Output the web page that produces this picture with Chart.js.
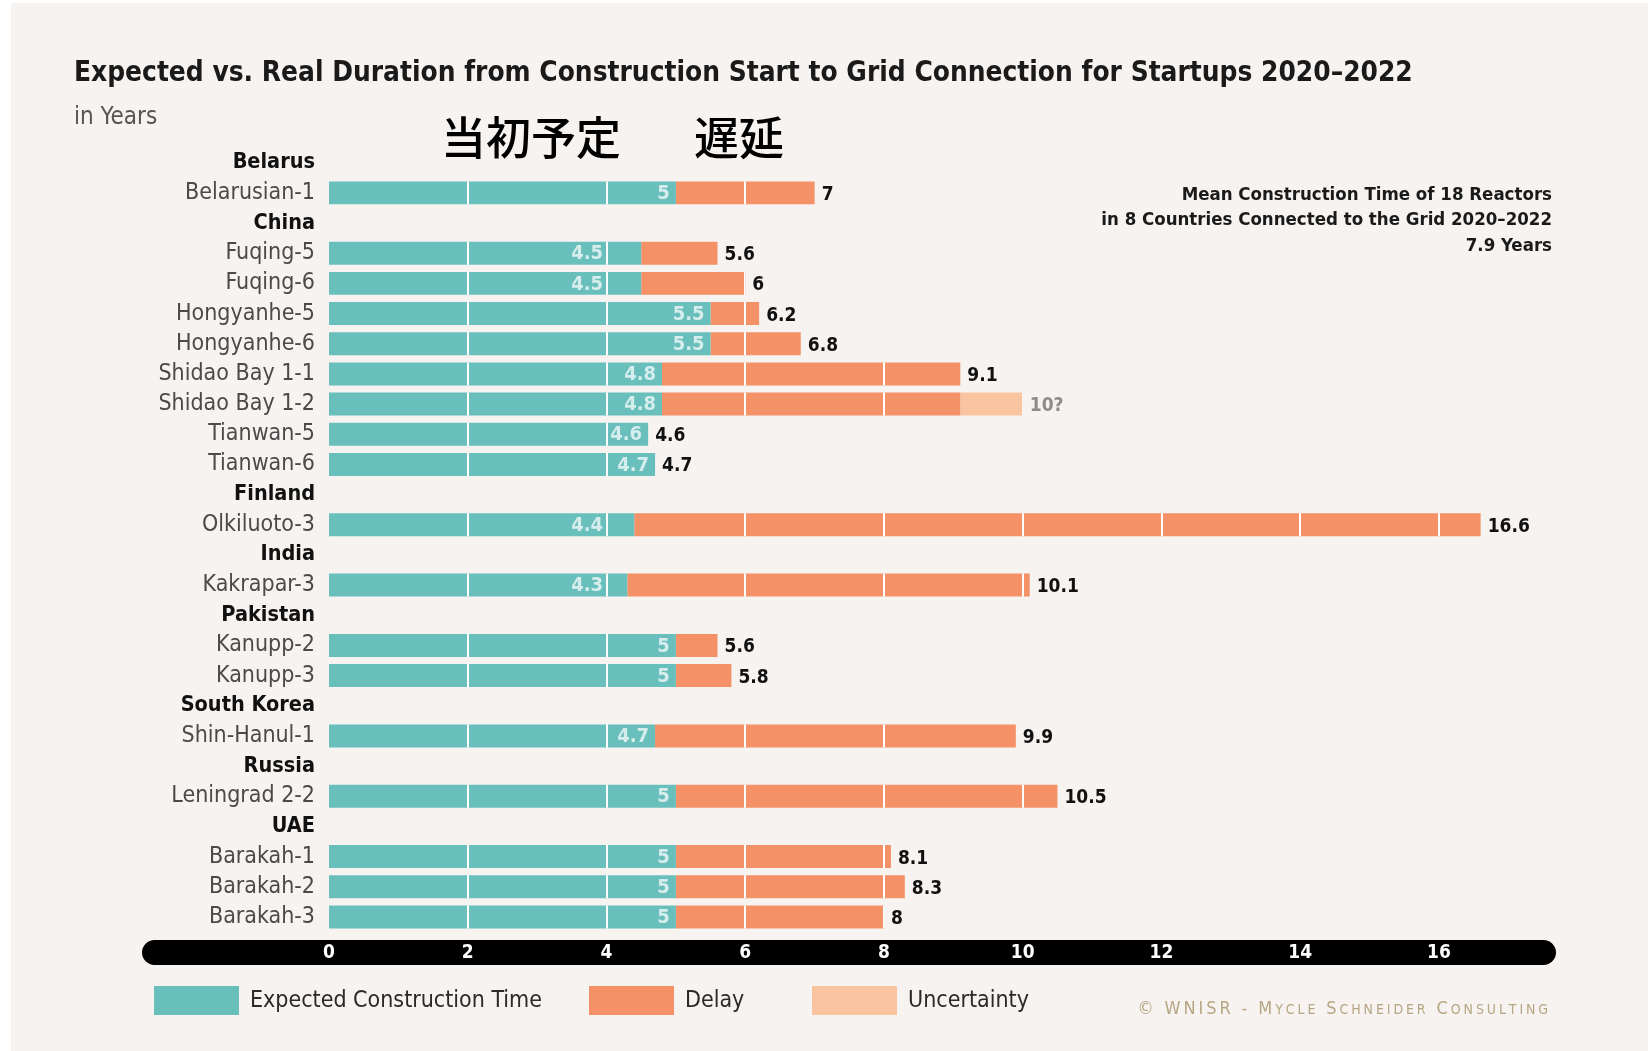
<!DOCTYPE html>
<html>
<head>
<meta charset="utf-8">
<script src="https://cdn.jsdelivr.net/npm/chart.js@4.4.1/dist/chart.umd.min.js"></script>
<style>
  html, body { margin: 0; padding: 0; background: #ffffff; }
  #wrap { width: 1648px; height: 1051px; }
</style>
</head>
<body>
<div id="wrap"><canvas id="chart"></canvas></div>
<script>
// rows of the chart: country headers + reactors
const rows = [
  "Belarus", "Belarusian-1",
  "China", "Fuqing-5", "Fuqing-6", "Hongyanhe-5", "Hongyanhe-6",
  "Shidao Bay 1-1", "Shidao Bay 1-2", "Tianwan-5", "Tianwan-6",
  "Finland", "Olkiluoto-3",
  "India", "Kakrapar-3",
  "Pakistan", "Kanupp-2", "Kanupp-3",
  "South Korea", "Shin-Hanul-1",
  "Russia", "Leningrad 2-2",
  "UAE", "Barakah-1", "Barakah-2", "Barakah-3"
];
const countries = ["Belarus", "China", "Finland", "India", "Pakistan", "South Korea", "Russia", "UAE"];

const expected = [null, 5, null, 4.5, 4.5, 5.5, 5.5, 4.8, 4.8, 4.6, 4.7, null, 4.4, null, 4.3,
  null, 5, 5, null, 4.7, null, 5, null, 5, 5, 5];
const delay = [null, 2, null, 1.1, 1.5, 0.7, 1.3, 4.3, 4.3, 0, 0, null, 12.2, null, 5.8,
  null, 0.6, 0.8, null, 5.2, null, 5.5, null, 3.1, 3.3, 3];
const uncertainty = [null, null, null, null, null, null, null, null, 0.9, null, null, null, null, null, null,
  null, null, null, null, null, null, null, null, null, null, null];
const totalLabels = [null, "7", null, "5.6", "6", "6.2", "6.8", "9.1", "10?", "4.6", "4.7", null, "16.6", null, "10.1",
  null, "5.6", "5.8", null, "9.9", null, "10.5", null, "8.1", "8.3", "8"];
const xTicks = [0, 2, 4, 6, 8, 10, 12, 14, 16];

const TEAL = "#69bfbb";
const ORANGE = "#f49166";
const LIGHT = "#f9c4a0";
const NARROW = "'DejaVu Sans Condensed', 'Liberation Sans Narrow', 'Roboto', sans-serif";

const decor = {
  id: "decor",
  beforeDraw(chart) {
    const ctx = chart.ctx;
    ctx.save();
    ctx.fillStyle = "#f6f3f1";
    ctx.fillRect(11, 3, chart.width - 11, chart.height - 3);
    // black axis capsule
    ctx.fillStyle = "#000";
    ctx.beginPath();
    ctx.roundRect(142, 940, 1414, 25, 12.5);
    ctx.fill();
    ctx.restore();
  },
  afterDatasetsDraw(chart) {
    // white grid lines, only across the bars
    const ctx = chart.ctx;
    const x = chart.scales.x;
    ctx.save();
    ctx.beginPath();
    chart.data.datasets.forEach((ds, k) => {
      chart.getDatasetMeta(k).data.forEach((el) => {
        const p = el.getProps(["x", "y", "base", "height"], true);
        if (!isFinite(p.x) || !isFinite(p.base) || p.x === p.base) return;
        ctx.rect(Math.min(p.x, p.base), p.y - p.height / 2, Math.abs(p.x - p.base), p.height);
      });
    });
    ctx.clip();
    ctx.strokeStyle = "#ffffff";
    ctx.lineWidth = 2;
    xTicks.slice(1).forEach((v) => {
      const px = Math.round(x.getPixelForValue(v));
      ctx.beginPath();
      ctx.moveTo(px, chart.chartArea.top);
      ctx.lineTo(px, chart.chartArea.bottom);
      ctx.stroke();
    });
    ctx.restore();
  },
  afterDraw(chart) {
    const ctx = chart.ctx;
    const x = chart.scales.x;
    const y = chart.scales.y;
    ctx.save();
    ctx.textBaseline = "middle";
    // labels on bars
    rows.forEach((r, i) => {
      if (expected[i] == null) return;
      const cy = y.getPixelForValue(i);
      const ex = x.getPixelForValue(expected[i]);
      ctx.font = "bold 20px " + NARROW;
      ctx.fillStyle = "rgba(255,255,255,0.72)";
      ctx.textAlign = "right";
      const txt = String(expected[i]);
      const tw = ctx.measureText(txt).width;
      let right = ex - 6;
      // keep the label clear of the nearest grid line
      const g = Math.round(x.getPixelForValue(Math.floor(expected[i] / 2) * 2));
      if (right - tw < g + 3 && right > g - 1) right = g - 4;
      ctx.fillText(txt, right, cy + 1);
      const end = x.getPixelForValue(expected[i] + (delay[i] || 0) + (uncertainty[i] || 0));
      ctx.textAlign = "left";
      ctx.font = "bold 19px " + NARROW;
      ctx.fillStyle = uncertainty[i] ? "#8c8c8c" : "#111";
      ctx.fillText(totalLabels[i], end + 7, cy + 2);
    });
    // Japanese headings
    ctx.fillStyle = "#000";
    ctx.textAlign = "left";
    ctx.font = "500 45px 'Noto Sans CJK JP', sans-serif";
    ctx.fillText("当初予定", 441, 138);
    ctx.fillText("遅延", 694, 138);
    // mean annotation
    ctx.textAlign = "right";
    ctx.fillStyle = "#1a1a1a";
    ctx.font = "bold 18.5px " + NARROW;
    ctx.fillText("Mean Construction Time of 18 Reactors", 1552, 195);
    ctx.fillText("in 8 Countries Connected to the Grid 2020\u20132022", 1552, 220);
    ctx.fillText("7.9 Years", 1552, 246);
    // legend
    const boxes = [154, 589, 812];
    chart.data.datasets.forEach((ds, k) => {
      ctx.fillStyle = ds.backgroundColor;
      ctx.fillRect(boxes[k], 986, 85, 29);
      ctx.fillStyle = "#2a2a2a";
      ctx.textAlign = "left";
      ctx.font = "23px " + NARROW;
      ctx.fillText(ds.label, boxes[k] + 96, 1001);
    });
    // copyright in small caps
    const txt = "\u00a9 WNISR - Mycle Schneider Consulting";
    const parts = [];
    let w = 0;
    for (const ch of txt) {
      const small = ch !== ch.toUpperCase();
      const f = (small ? "14px " : "18px ") + NARROW;
      ctx.font = f;
      const cw = ctx.measureText(ch.toUpperCase()).width + 2.9;
      parts.push([ch.toUpperCase(), f, cw]);
      w += cw;
    }
    let cx = 1551 - w;
    ctx.fillStyle = "#b7a683";
    ctx.textAlign = "left";
    ctx.textBaseline = "alphabetic";
    parts.forEach(([ch, f, cw]) => {
      ctx.font = f;
      ctx.fillText(ch, cx, 1014);
      cx += cw;
    });
    ctx.restore();
  }
};

new Chart(document.getElementById("chart"), {
  type: "bar",
  data: {
    labels: rows,
    datasets: [
      { label: "Expected Construction Time", data: expected, backgroundColor: TEAL },
      { label: "Delay", data: delay, backgroundColor: ORANGE },
      { label: "Uncertainty", data: uncertainty, backgroundColor: LIGHT }
    ]
  },
  options: {
    indexAxis: "y",
    responsive: true,
    maintainAspectRatio: false,
    animation: false,
    layout: { padding: { left: 74, right: 98, top: 0, bottom: 84 } },
    datasets: { bar: { categoryPercentage: 1, barPercentage: 0.76, borderWidth: 0 } },
    scales: {
      x: {
        stacked: true,
        min: 0,
        max: 17.6,
        z: 1,
        afterBuildTicks: (s) => { s.ticks = xTicks.map((v) => ({ value: v })); },
        afterFit: (s) => { s.height = 35; },
        border: { display: false },
        grid: { display: false, drawTicks: false },
        ticks: { color: "#ffffff", padding: 10, font: { family: NARROW, size: 19, weight: "bold" } }
      },
      y: {
        stacked: true,
        afterFit: (s) => { s.width = 255; },
        border: { display: false },
        grid: { display: false, drawTicks: false },
        ticks: {
          padding: 14,
          autoSkip: false,
          color: (c) => (countries.includes(rows[c.index]) ? "#111" : "#4a4a4a"),
          font: (c) => (countries.includes(rows[c.index])
            ? { family: NARROW, size: 21.5, weight: "bold" }
            : { family: NARROW, size: 23, weight: "normal" })
        }
      }
    },
    plugins: {
      legend: { display: false },
      tooltip: { enabled: false },
      title: {
        display: true,
        text: "Expected vs. Real Duration from Construction Start to Grid Connection for Startups 2020\u20132022",
        align: "start",
        color: "#1a1a1a",
        font: { family: NARROW, size: 27.8, weight: "bold", lineHeight: 1.2 },
        padding: { top: 57, bottom: 0 }
      },
      subtitle: {
        display: true,
        text: "in Years",
        align: "start",
        color: "#555",
        font: { family: NARROW, size: 24, lineHeight: 1.2 },
        padding: { top: 13, bottom: 15.5 }
      }
    }
  },
  plugins: [decor]
});
</script>
</body>
</html>
